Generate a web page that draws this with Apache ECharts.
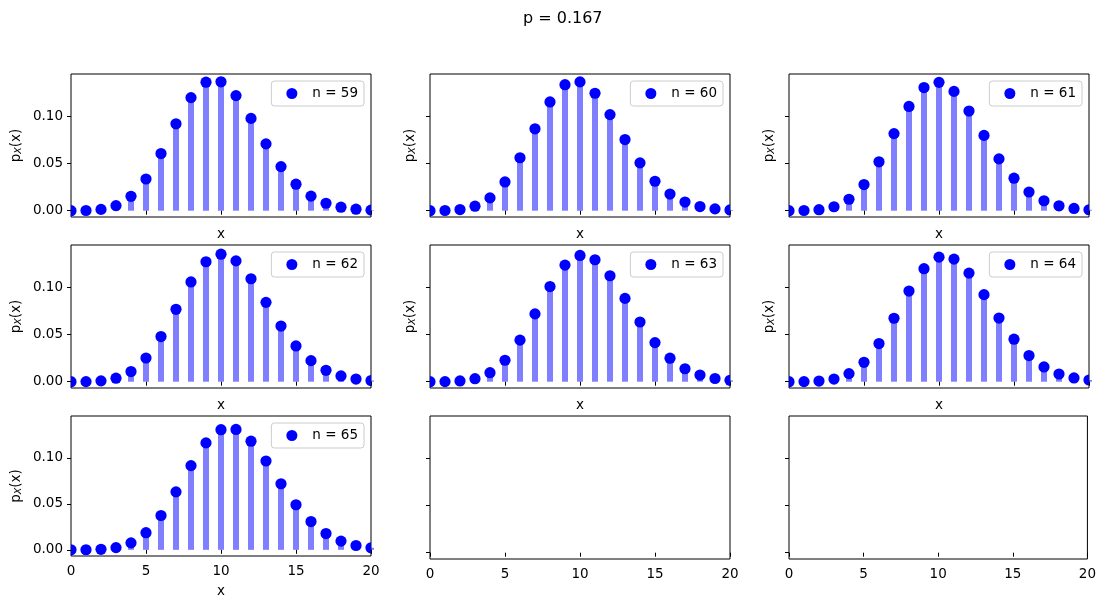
<!DOCTYPE html>
<html>
<head>
<meta charset="utf-8">
<script src="https://cdn.jsdelivr.net/npm/echarts@6/dist/echarts.min.js"></script>
<style>
  html, body { margin: 0; padding: 0; background: #fff; }
  #chart { width: 1099px; height: 599px; }
</style>
</head>
<body>
<div id="chart"></div>
<script>
const xValues = [0, 1, 2, 3, 4, 5, 6, 7, 8, 9, 10, 11, 12, 13, 14, 15, 16, 17, 18, 19, 20];
const nValues = [59, 60, 61, 62, 63, 64, 65];
const pmf59 = [0.0000, 0.0002, 0.0014, 0.0054, 0.0153, 0.0337, 0.0608, 0.0924, 0.1203, 0.1367, 0.1371, 0.1224, 0.0982, 0.0711, 0.0469, 0.0282, 0.0155, 0.0079, 0.0037, 0.0016, 0.0006];
const pmf60 = [0.0000, 0.0002, 0.0012, 0.0048, 0.0136, 0.0306, 0.0563, 0.0871, 0.1157, 0.1340, 0.1370, 0.1249, 0.1022, 0.0757, 0.0509, 0.0313, 0.0177, 0.0092, 0.0044, 0.0019, 0.0008];
const pmf61 = [0.0000, 0.0002, 0.0011, 0.0042, 0.0122, 0.0278, 0.0520, 0.0820, 0.1109, 0.1310, 0.1365, 0.1269, 0.1060, 0.0801, 0.0551, 0.0346, 0.0199, 0.0106, 0.0052, 0.0024, 0.0010];
const pmf62 = [0.0000, 0.0001, 0.0009, 0.0037, 0.0108, 0.0252, 0.0480, 0.0770, 0.1061, 0.1276, 0.1356, 0.1285, 0.1095, 0.0844, 0.0592, 0.0380, 0.0224, 0.0121, 0.0061, 0.0028, 0.0012];
const pmf63 = [0.0000, 0.0001, 0.0008, 0.0032, 0.0096, 0.0228, 0.0442, 0.0721, 0.1012, 0.1240, 0.1343, 0.1297, 0.1127, 0.0886, 0.0635, 0.0416, 0.0250, 0.0138, 0.0071, 0.0034, 0.0015];
const pmf64 = [0.0000, 0.0001, 0.0007, 0.0028, 0.0086, 0.0206, 0.0406, 0.0675, 0.0964, 0.1202, 0.1325, 0.1304, 0.1155, 0.0926, 0.0677, 0.0452, 0.0278, 0.0157, 0.0082, 0.0040, 0.0018];
const pmf65 = [0.0000, 0.0001, 0.0006, 0.0024, 0.0076, 0.0186, 0.0373, 0.0630, 0.0915, 0.1162, 0.1305, 0.1308, 0.1180, 0.0965, 0.0718, 0.0490, 0.0307, 0.0177, 0.0095, 0.0047, 0.0022];
const panelValues = [pmf59, pmf60, pmf61, pmf62, pmf63, pmf64, pmf65];
const yTicks = [0, 0.05, 0.10];
const xTicks = [0, 5, 10, 15, 20];

const FONT = 'DejaVu Sans';
const FS = 13.5;
const INK = '#000';
const BLUE = '#0000ff';
const W = 1099;

const chart = echarts.init(document.getElementById('chart'), null, { renderer: 'canvas' });

const grid = [], xAxis = [], yAxis = [], series = [], legend = [];

// markers as custom circles so the ones at x=0 / x=20 get cut by the axes box
function dot(params, api) {
  const p = api.coord([api.value(0), api.value(1)]);
  return { type: 'circle', shape: { cx: p[0], cy: p[1], r: 5.6 }, style: { fill: BLUE } };
}

for (let i = 0; i < 9; i++) {
  const row = Math.floor(i / 3), col = i % 3;
  const hasData = i < panelValues.length;
  const left = 71 + col * 359, top = 74 + row * 171;

  grid.push({
    left: left, top: top, width: 300, height: 143,
    show: true, borderColor: INK, borderWidth: 1, backgroundColor: 'transparent'
  });

  xAxis.push({
    type: 'value', gridIndex: i, min: 0, max: 20, interval: 5,
    axisLine: { show: false },
    splitLine: { show: false },
    axisTick: { show: true, length: 4, customValues: xTicks, lineStyle: { color: INK } },
    axisLabel: {
      show: row === 2, customValues: xTicks, margin: 8,
      fontSize: FS, fontFamily: FONT, color: INK
    },
    name: hasData ? 'x' : '',
    nameLocation: 'middle',
    nameGap: row === 2 ? 28 : 10,
    nameTextStyle: { fontSize: FS, fontFamily: FONT, color: INK }
  });

  yAxis.push({
    type: 'value', gridIndex: i, min: -0.0067, max: 0.1454,
    axisLine: { show: false },
    splitLine: { show: false },
    axisTick: { show: true, length: 4, customValues: yTicks, lineStyle: { color: INK } },
    axisLabel: {
      show: col === 0, customValues: yTicks, margin: 8,
      formatter: v => v.toFixed(2),
      fontSize: FS, fontFamily: FONT, color: INK
    },
    name: hasData ? '{a|p}{s|X}{a|(x)}' : '',
    nameLocation: 'middle',
    nameRotate: 90,
    nameGap: col === 0 ? 47 : 12,
    nameTextStyle: {
      fontSize: FS, fontFamily: FONT, color: INK,
      rich: {
        a: { fontSize: FS, fontFamily: FONT, color: INK },
        s: { fontSize: 9.5, fontFamily: FONT, fontStyle: 'italic', color: INK, padding: [5, 0, 0, 0] }
      }
    }
  });

  if (!hasData) continue;

  const vals = panelValues[i];
  const label = 'n = ' + nValues[i];
  const pts = xValues.map((x, k) => [x, vals[k]]);

  series.push({
    name: 'stem ' + nValues[i],
    type: 'bar',
    xAxisIndex: i, yAxisIndex: i,
    barWidth: 6,
    itemStyle: { color: 'rgba(0,0,255,0.5)' },
    data: pts,
    z: 2
  });
  series.push({
    name: label,
    type: 'custom',
    xAxisIndex: i, yAxisIndex: i,
    renderItem: dot,
    encode: { x: 0, y: 1 },
    itemStyle: { color: BLUE },
    data: pts,
    clip: true,
    z: 3
  });

  // anchored to the axes' right edge, like matplotlib's upper right legend
  legend.push({
    data: [{ name: label, icon: 'circle', itemStyle: { color: BLUE } }],
    right: W - (left + 293), top: top + 7,
    orient: 'vertical',
    selectedMode: false,
    itemWidth: 31, itemHeight: 11,
    padding: [5, 6, 5, 15],
    borderColor: '#cccccc', borderWidth: 1, borderRadius: 3,
    backgroundColor: 'rgba(255,255,255,0.8)',
    textStyle: { fontSize: FS, fontFamily: FONT, color: INK, lineHeight: 15 }
  });
}

chart.setOption({
  animation: false,
  backgroundColor: '#fff',
  title: {
    text: 'p = 0.167',
    left: 523, top: 11,
    padding: 0,
    textStyle: { fontSize: 16, fontWeight: 'normal', fontFamily: FONT, color: INK }
  },
  legend: legend,
  grid: grid,
  xAxis: xAxis,
  yAxis: yAxis,
  series: series
});

window.addEventListener('resize', () => chart.resize());
</script>
</body>
</html>
